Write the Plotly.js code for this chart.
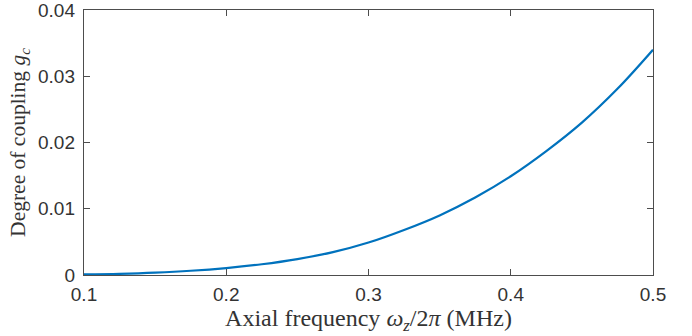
<!DOCTYPE html>
<html>
<head>
<meta charset="utf-8">
<script src="https://cdn.plot.ly/plotly-3.0.1.min.js"></script>
<style>
  html, body { margin: 0; padding: 0; background: #fff; }
  #chart { width: 692px; height: 336px; }
</style>
</head>
<body>
<div id="chart"></div>
<script>
// Axial trap frequency (MHz) and the corresponding degree of coupling g_c
const axialFreq = [0.100, 0.125, 0.150, 0.175, 0.200, 0.225, 0.250, 0.275, 0.300,
                   0.325, 0.350, 0.375, 0.400, 0.425, 0.450, 0.475, 0.500];
const couplingDegree = [0.00008, 0.00018, 0.00036, 0.00064, 0.00105, 0.00162, 0.00240, 0.00345, 0.00490,
                        0.00680, 0.00900, 0.01170, 0.01490, 0.01870, 0.02300, 0.02810, 0.03400];
const xTicks = [0.1, 0.2, 0.3, 0.4, 0.5];
const xTickText = ['0.1', '0.2', '0.3', '0.4', '0.5'];
const yTicks = [0, 0.01, 0.02, 0.03, 0.04];
const yTickText = ['0', '0.01', '0.02', '0.03', '0.04'];

const axisColor = '#4d4d4d';
const tickFont = { family: 'Liberation Sans, Arial, sans-serif', size: 19, color: '#333333' };
const xTitleFont = { family: 'Liberation Serif, Times New Roman, serif', size: 24, color: '#333333' };
const yTitleFont = { family: 'Liberation Serif, Times New Roman, serif', size: 21.5, color: '#333333' };

const trace = {
  x: axialFreq,
  y: couplingDegree,
  type: 'scatter',
  mode: 'lines',
  line: { color: '#0072BD', width: 2.2, shape: 'spline', smoothing: 1 },
  hoverinfo: 'skip'
};

const layout = {
  width: 692,
  height: 336,
  margin: { l: 84, r: 39, t: 10, b: 61 },
  paper_bgcolor: '#ffffff',
  plot_bgcolor: '#ffffff',
  showlegend: false,
  xaxis: {
    range: [0.1, 0.5],
    tickvals: xTicks,
    ticktext: xTickText,
    ticks: 'inside',
    ticklen: 6,
    tickwidth: 1,
    tickcolor: axisColor,
    showline: true,
    linecolor: axisColor,
    linewidth: 1.2,
    mirror: 'ticks',
    showgrid: false,
    zeroline: false,
    tickfont: tickFont,
    ticklabelstandoff: 2,
    ticklabeloverflow: 'allow',
    title: { text: 'Axial frequency <i>ω<sub>z</sub></i>/2<i>π</i> (MHz)', font: xTitleFont, standoff: 0 }
  },
  yaxis: {
    range: [0, 0.04],
    tickvals: yTicks,
    ticktext: yTickText,
    ticks: 'inside',
    ticklen: 6,
    tickwidth: 1,
    tickcolor: axisColor,
    showline: true,
    linecolor: axisColor,
    linewidth: 1.2,
    mirror: 'ticks',
    showgrid: false,
    zeroline: false,
    tickfont: tickFont,
    ticklabelstandoff: 4,
    ticklabeloverflow: 'allow',
    title: { text: 'Degree of coupling <i>g<sub>c</sub></i>', font: yTitleFont, standoff: 6 }
  }
};

Plotly.newPlot('chart', [trace], layout, { staticPlot: true, displayModeBar: false });
</script>
</body>
</html>
